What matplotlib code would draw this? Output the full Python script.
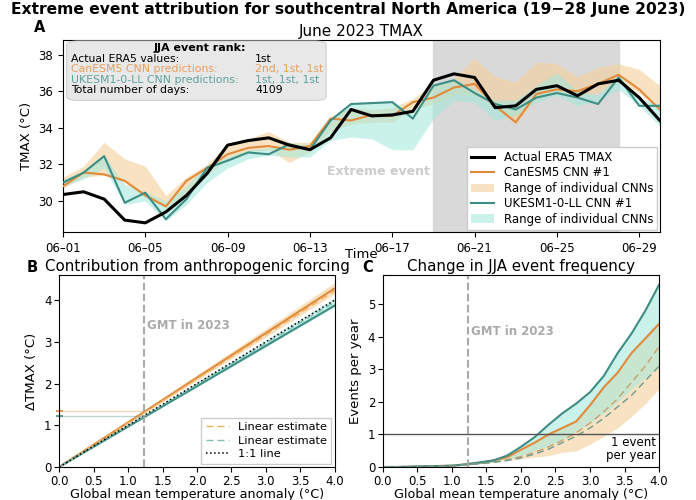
import numpy as np
import matplotlib
matplotlib.use("Agg")
import matplotlib.pyplot as plt
import matplotlib.dates as mdates
from matplotlib.patches import Patch, FancyBboxPatch
from matplotlib.lines import Line2D
from datetime import datetime, timedelta

# ---- panel A data (June 2023 daily TMAX, deg C) ----
days = [datetime(2023, 6, 1) + timedelta(days=i) for i in range(30)]
era5 = [30.35, 30.5, 30.1, 28.95, 28.8, 29.4, 30.3, 31.5, 33.05, 33.3,
        33.45, 33.05, 32.8, 33.45, 35.0, 34.65, 34.7, 34.9, 36.6, 36.95,
        36.75, 35.1, 35.2, 36.1, 36.3, 35.75, 36.4, 36.6, 35.65, 34.4]
can1 = [30.8, 31.55, 31.45, 31.1, 30.3, 29.7, 31.1, 31.8, 32.55, 32.9,
        33.0, 32.8, 33.0, 34.5, 34.4, 34.7, 34.65, 35.4, 35.65, 36.2,
        36.4, 35.2, 34.3, 35.85, 36.1, 36.0, 36.4, 36.9, 36.1, 35.0]
can_lo = [30.7, 31.3, 31.4, 31.0, 30.2, 29.6, 30.4, 31.4, 32.3, 32.7,
          32.8, 32.1, 32.7, 33.8, 34.2, 34.3, 34.3, 35.0, 35.3, 35.8,
          35.8, 35.1, 34.2, 35.6, 35.9, 35.7, 35.9, 36.6, 35.9, 34.9]
can_hi = [31.3, 31.9, 33.2, 32.3, 31.9, 30.3, 31.3, 32.0, 33.1, 33.4,
          33.8, 33.2, 33.2, 34.6, 35.1, 35.0, 35.1, 35.6, 36.4, 36.7,
          37.8, 36.8, 36.5, 37.6, 37.5, 36.8, 37.3, 37.5, 37.2, 36.3]
uk1 = [31.0, 31.55, 32.45, 29.9, 30.45, 29.0, 30.1, 31.8, 32.2, 32.65,
       32.55, 33.1, 32.8, 34.4, 35.3, 35.35, 35.4, 34.5, 36.3, 36.6,
       35.9, 35.3, 35.0, 35.65, 35.9, 35.65, 35.3, 36.75, 35.2, 35.2]
uk_lo = [30.8, 31.2, 31.8, 29.8, 30.0, 28.9, 29.8, 31.0, 31.8, 32.3,
         32.5, 32.4, 32.4, 33.3, 33.5, 33.4, 32.8, 32.8, 34.5, 35.5,
         35.4, 34.4, 34.7, 35.4, 35.8, 35.2, 35.5, 36.1, 35.2, 34.1]
uk_hi = [31.2, 31.6, 32.5, 30.9, 30.5, 30.0, 30.8, 32.0, 32.4, 32.8,
         32.9, 33.1, 33.1, 34.4, 35.3, 35.4, 35.5, 34.8, 36.4, 36.7,
         36.1, 35.5, 35.5, 36.3, 37.0, 36.0, 35.8, 36.9, 35.6, 35.3]

# ---- panel B data (straight-line fits, end points) ----
gmt_b = [0.0, 4.0]
can_b = [0.0, 4.28]
can_b_lo = [0.0, 4.15]
can_b_hi = [0.0, 4.42]
can_b_lin = [0.0, 4.22]
uk_b = [0.0, 3.87]
uk_b_lo = [0.0, 3.84]
uk_b_hi = [0.0, 4.05]
uk_b_lin = [0.0, 3.95]
one_to_one = [0.0, 4.0]
gmt2023 = 1.23
can_2023 = 1.33
uk_2023 = 1.21

# ---- panel C data (events per year) ----
gmt_c = [0.0, 0.2, 0.4, 0.6, 0.8, 1.0, 1.2, 1.4, 1.6, 1.8, 2.0,
         2.2, 2.4, 2.6, 2.8, 3.0, 3.2, 3.4, 3.6, 3.8, 4.0]
uk_c = [0.0, 0.0, 0.01, 0.02, 0.03, 0.04, 0.08, 0.14, 0.2, 0.35, 0.62,
        0.92, 1.3, 1.65, 1.95, 2.3, 2.8, 3.5, 4.1, 4.8, 5.6]
uk_c_lo = [0.0, 0.0, 0.0, 0.01, 0.02, 0.03, 0.06, 0.1, 0.16, 0.24, 0.35,
           0.5, 0.65, 0.85, 1.1, 1.35, 1.65, 2.0, 2.4, 2.75, 3.1]
can_c = [0.0, 0.0, 0.01, 0.02, 0.03, 0.04, 0.08, 0.13, 0.2, 0.3, 0.53,
         0.75, 1.0, 1.2, 1.4, 1.9, 2.45, 2.9, 3.5, 3.95, 4.4]
can_c_lo = [0.0, 0.0, 0.0, 0.01, 0.02, 0.03, 0.05, 0.1, 0.15, 0.2, 0.25,
            0.3, 0.35, 0.45, 0.5, 0.7, 0.95, 1.2, 1.55, 1.95, 2.4]
can_c_hi = [0.0, 0.02, 0.04, 0.05, 0.05, 0.06, 0.09, 0.14, 0.22, 0.32, 0.56,
            0.8, 1.05, 1.25, 1.45, 1.95, 2.5, 2.95, 3.55, 4.0, 4.45]
can_c_lin = [0.0, 0.0, 0.01, 0.02, 0.03, 0.04, 0.07, 0.1, 0.15, 0.22, 0.32,
             0.45, 0.62, 0.82, 1.05, 1.35, 1.7, 2.1, 2.6, 3.1, 3.7]
uk_c_lin = [0.0, 0.0, 0.01, 0.02, 0.03, 0.04, 0.07, 0.1, 0.14, 0.2, 0.28,
            0.4, 0.55, 0.75, 0.95, 1.2, 1.5, 1.85, 2.2, 2.65, 3.1]

ORANGE = '#e08a3a'
TEAL = '#3d8d84'
ORANGE_FILL = '#f5cf98'
TEAL_FILL = '#9fe8dc'

plt.rcParams['font.family'] = 'DejaVu Sans'
fig = plt.figure(figsize=(6.96, 5.0), dpi=100)

fig.text(0.5, 0.981, 'Extreme event attribution for southcentral North America (19\u221228 June 2023)',
         ha='center', va='center', fontsize=11.2, fontweight='bold')

# ================= panel A =================
ax = fig.add_axes([0.0905, 0.536, 0.8575, 0.384])
ax.axvspan(days[18], days[27], color='#d9d9d9', zorder=0)
ax.fill_between(days, can_lo, can_hi, color=ORANGE_FILL, alpha=0.6, lw=0, zorder=1)
ax.fill_between(days, uk_lo, uk_hi, color=TEAL_FILL, alpha=0.55, lw=0, zorder=1)
ax.plot(days, era5, color='black', lw=2.2, zorder=4)
ax.plot(days, can1, color=ORANGE, lw=1.5, zorder=3)
ax.plot(days, uk1, color=TEAL, lw=1.5, zorder=3)
ax.set_xlim(days[0], days[-1])
ax.set_ylim(28.3, 38.8)
ax.set_yticks([30, 32, 34, 36, 38])
ax.xaxis.set_major_locator(mdates.DayLocator(bymonthday=[1, 5, 9, 13, 17, 21, 25, 29]))
ax.xaxis.set_major_formatter(mdates.DateFormatter('%m\u2013%d'))
ax.tick_params(labelsize=8.5)
ax.set_xlabel('Time', fontsize=9.5, labelpad=-5)
ax.set_ylabel('TMAX (\u00b0C)', fontsize=9.5)
ax.set_title('June 2023 TMAX', fontsize=11, pad=3)
fig.text(0.057, 0.944, 'A', fontsize=10.5, fontweight='bold', ha='center', va='center')
ax.text(days[15] + timedelta(hours=8), 31.6, 'Extreme event', color='#cccccc',
        fontsize=9, fontweight='bold', ha='center', va='center')

# rank box
box = FancyBboxPatch((0.006, 0.685), 0.435, 0.31, boxstyle='round,pad=0,rounding_size=0.02',
                     transform=ax.transAxes, fc='#e6e6e6', ec='#cccccc', lw=0.8, alpha=0.9, zorder=5)
ax.add_patch(box)
rows = [('Actual ERA5 values:', '1st', 'black'),
        ('CanESM5 CNN predictions:', '2nd, 1st, 1st', '#e5a060'),
        ('UKESM1-0-LL CNN predictions:', '1st, 1st, 1st', '#5fa39a'),
        ('Total number of days:', '4109', 'black')]
ax.text(0.23, 0.957, 'JJA event rank:', transform=ax.transAxes, ha='center', va='center',
        fontsize=8, fontweight='bold', zorder=6)
for k, (lab, val, col) in enumerate(rows):
    yy = 0.9 - k * 0.053
    ax.text(0.013, yy, lab, transform=ax.transAxes, color=col, fontsize=7.8, va='center', zorder=6)
    ax.text(0.322, yy, val, transform=ax.transAxes, color=col, fontsize=7.8, va='center', zorder=6)

handles = [Line2D([], [], color='black', lw=2.2),
           Line2D([], [], color=ORANGE, lw=1.5),
           Patch(color=ORANGE_FILL, alpha=0.6, lw=0),
           Line2D([], [], color=TEAL, lw=1.5),
           Patch(color=TEAL_FILL, alpha=0.55, lw=0)]
labels = ['Actual ERA5 TMAX', 'CanESM5 CNN #1', 'Range of individual CNNs',
          'UKESM1-0-LL CNN #1', 'Range of individual CNNs']
leg = ax.legend(handles, labels, loc='lower right', fontsize=8.5, framealpha=1,
                borderaxespad=0.2, handlelength=2.0, labelspacing=0.2, fancybox=False,
                borderpad=0.35)
leg.set_zorder(7)

# ================= panel B =================
axb = fig.add_axes([0.085, 0.066, 0.396, 0.384])
axb.fill_between(gmt_b, can_b_lo, can_b_hi, color=ORANGE_FILL, alpha=0.6, lw=0)
axb.fill_between(gmt_b, uk_b_lo, uk_b_hi, color=TEAL_FILL, alpha=0.55, lw=0)
axb.plot(gmt_b, can_b, color=ORANGE, lw=1.5)
axb.plot(gmt_b, uk_b, color=TEAL, lw=1.5)
axb.plot(gmt_b, can_b_lin, color='#f0b060', lw=1.0, ls=(0, (5, 3)))
axb.plot(gmt_b, uk_b_lin, color='#7fbfb5', lw=1.0, ls=(0, (5, 3)))
axb.plot(gmt_b, one_to_one, color='black', lw=1.1, ls=':')
axb.axvline(gmt2023, color='#aaaaaa', lw=1.5, ls='--')
axb.hlines(can_2023, -0.05, gmt2023, color=ORANGE, lw=1.0, alpha=0.35, clip_on=False)
axb.hlines(uk_2023, -0.05, gmt2023, color=TEAL, lw=1.0, alpha=0.35, clip_on=False)
axb.hlines([can_2023], -0.05, 0.06, color=ORANGE, lw=1.2, clip_on=False)
axb.hlines([uk_2023], -0.05, 0.06, color=TEAL, lw=1.2, clip_on=False)
axb.text(gmt2023 + 0.05, 3.4, 'GMT in 2023', color='#aaaaaa', fontsize=8.5, fontweight='bold',
         va='center')
axb.set_xlim(0, 4)
axb.set_ylim(0, 4.6)
axb.set_xticks([0, 0.5, 1.0, 1.5, 2.0, 2.5, 3.0, 3.5, 4.0])
axb.set_yticks([0, 1, 2, 3, 4])
axb.tick_params(labelsize=8.5, pad=2)
axb.set_xlabel('Global mean temperature anomaly (\u00b0C)', fontsize=9.2, labelpad=0)
axb.set_ylabel('\u0394TMAX (\u00b0C)', fontsize=9.5)
axb.set_title('Contribution from anthropogenic forcing', fontsize=10.8, pad=3)
fig.text(0.046, 0.466, 'B', fontsize=10.5, fontweight='bold', ha='center', va='center')
hb = [Line2D([], [], color='#f0b060', lw=1.0, ls=(0, (5, 3))),
      Line2D([], [], color='#7fbfb5', lw=1.0, ls=(0, (5, 3))),
      Line2D([], [], color='black', lw=1.1, ls=':')]
axb.legend(hb, ['Linear estimate', 'Linear estimate', '1:1 line'], loc='lower right',
           fontsize=8.2, framealpha=1, fancybox=False, labelspacing=0.3, borderaxespad=0.3)

# ================= panel C =================
axc = fig.add_axes([0.55, 0.066, 0.397, 0.384])
axc.fill_between(gmt_c, can_c_lo, can_c_hi, color=ORANGE_FILL, alpha=0.6, lw=0)
axc.fill_between(gmt_c, uk_c_lo, uk_c, color=TEAL_FILL, alpha=0.55, lw=0)
axc.plot(gmt_c, can_c, color=ORANGE, lw=1.5)
axc.plot(gmt_c, uk_c, color=TEAL, lw=1.5)
axc.plot(gmt_c, can_c_lin, color='#c8a070', lw=1.0, ls=(0, (5, 3)))
axc.plot(gmt_c, uk_c_lin, color='#6a9a92', lw=1.0, ls=(0, (5, 3)))
axc.axhline(1, color='#555555', lw=1.0)
axc.axvline(gmt2023, color='#aaaaaa', lw=1.5, ls='--')
axc.text(gmt2023 + 0.05, 4.15, 'GMT in 2023', color='#aaaaaa', fontsize=8.5, fontweight='bold',
         va='center')
axc.text(3.95, 0.55, '1 event\nper year', ha='right', va='center', fontsize=8.5,
         linespacing=1.05)
axc.set_xlim(0, 4)
axc.set_ylim(0, 5.9)
axc.set_xticks([0, 0.5, 1.0, 1.5, 2.0, 2.5, 3.0, 3.5, 4.0])
axc.set_yticks([0, 1, 2, 3, 4, 5])
axc.tick_params(labelsize=8.5, pad=2)
axc.set_xlabel('Global mean temperature anomaly (\u00b0C)', fontsize=9.2, labelpad=0)
axc.set_ylabel('Events per year', fontsize=9.5)
axc.set_title('Change in JJA event frequency', fontsize=10.8, pad=3)
fig.text(0.528, 0.466, 'C', fontsize=10.5, fontweight='bold', ha='center', va='center')

fig.savefig('out.png', dpi=100)
